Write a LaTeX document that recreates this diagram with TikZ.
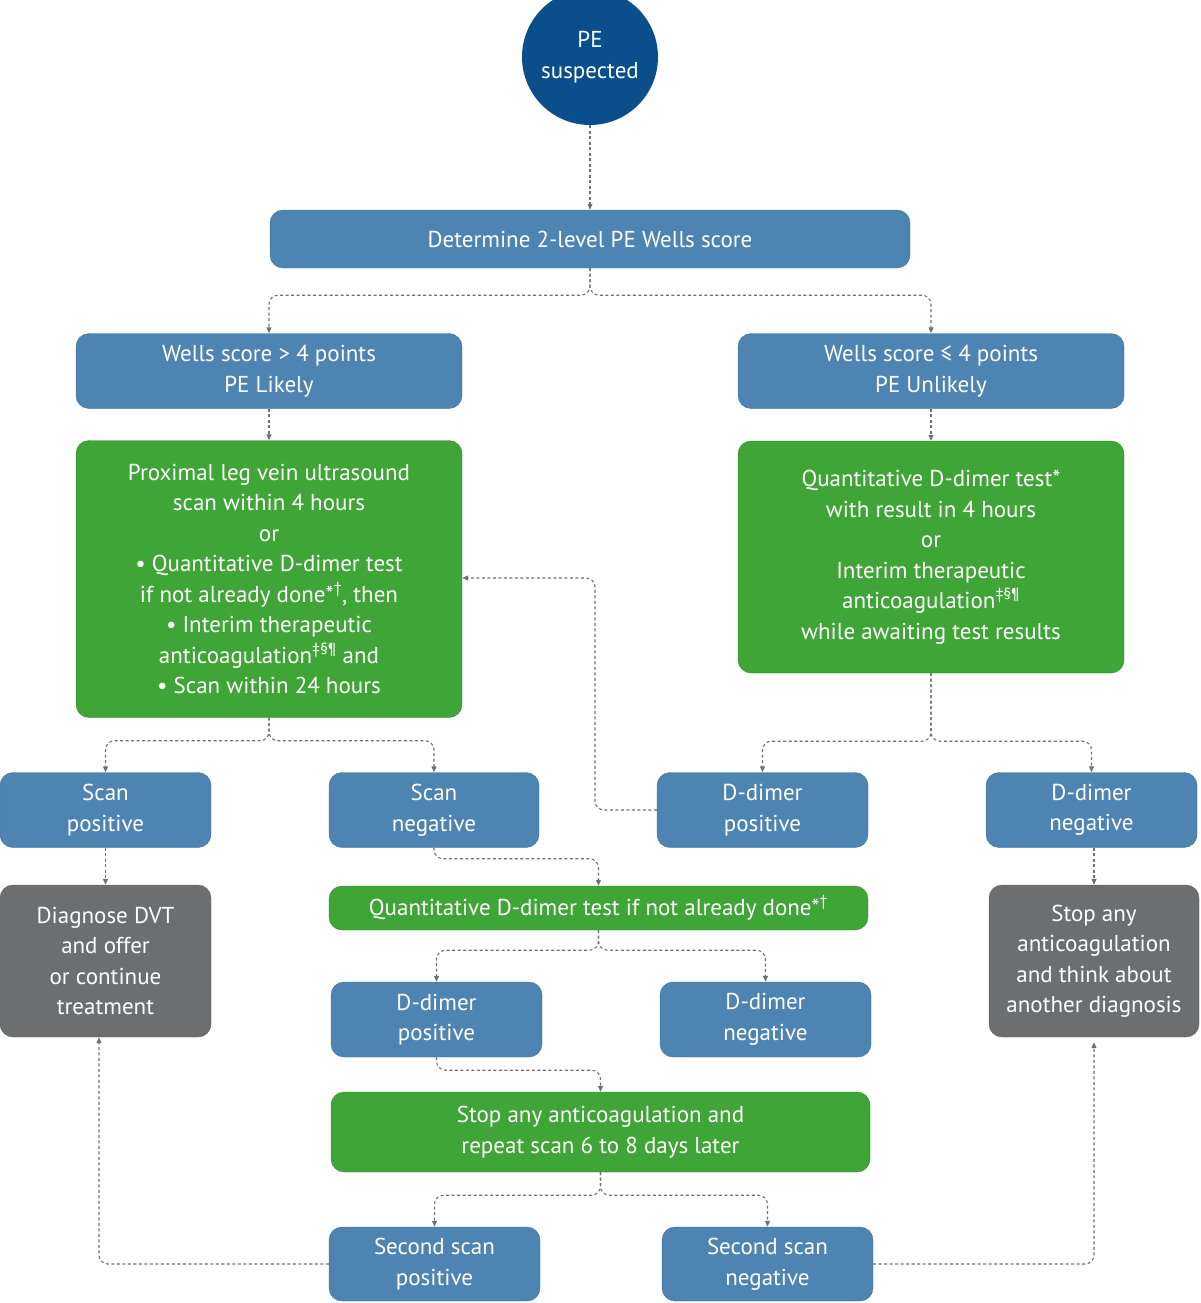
\documentclass[tikz,border=0pt]{standalone}
\usepackage{fontspec}
\setmainfont{PT Sans}
\usetikzlibrary{arrows.meta}
\definecolor{bl}{HTML}{4D84B1}
\definecolor{blb}{HTML}{3B6F9C}
\definecolor{dbl}{HTML}{0A4F8C}
\definecolor{gr}{HTML}{3EA536}
\definecolor{gy}{HTML}{6D6E70}
\definecolor{ln}{HTML}{707070}
\begin{document}
\begin{tikzpicture}[x=1pt,y=-1pt,
 box/.style={draw=#1!85!black,fill=#1,rounded corners=13pt,text=white,align=center,font=\fontsize{23}{30.5}\selectfont,inner sep=0pt},
 conn/.style={draw=ln,line width=1.1pt,dash pattern=on 3pt off 2.5pt,rounded corners=9pt,-{Triangle[length=6pt,width=5pt]}}]
\useasboundingbox (0,0) rectangle (1200,1303);
\newcommand\bx[6]{\node[box=#6,minimum width=#3-#2,minimum height=#5-#4] (#1) at ({(#2+#3)/2},{(#4+#5)/2}) {\strut};}
\node[circle,fill=dbl,minimum size=136pt,text=white,align=center,font=\fontsize{23}{30.5}\selectfont] (pe) at (590,57) {PE\\suspected};
\node[box=bl,minimum width=640pt,minimum height=58pt] (wells) at (590,239) {Determine 2-level PE Wells score};
\node[box=bl,minimum width=386pt,minimum height=75pt] (lik) at (269,371) {Wells score > 4 points\\PE Likely};
\node[box=bl,minimum width=386pt,minimum height=75pt] (unl) at (931,371) {Wells score ≤ 4 points\\PE Unlikely};
\node[box=gr,minimum width=386pt,minimum height=277pt] (gl) at (269,579) {Proximal leg vein ultrasound\\scan within 4 hours\\or\\• Quantitative D-dimer test\\if not already done*\textsuperscript{†}, then\\• Interim therapeutic\\anticoagulation\textsuperscript{‡§¶} and\\• Scan within 24 hours};
\node[box=gr,minimum width=386pt,minimum height=232pt] (gr) at (931,557) {Quantitative D-dimer test*\\with result in 4 hours\\or\\Interim therapeutic\\anticoagulation\textsuperscript{‡§¶}\\while awaiting test results};
\node[box=bl,minimum width=211pt,minimum height=75pt] (sp) at (105.5,810) {Scan\\positive};
\node[box=bl,minimum width=210pt,minimum height=75pt] (sn) at (434,810) {Scan\\negative};
\node[box=bl,minimum width=211pt,minimum height=75pt] (dp) at (762.5,810) {D-dimer\\positive};
\node[box=bl,minimum width=211pt,minimum height=75pt] (dn) at (1091.5,810) {D-dimer\\negative};
\node[box=gy,minimum width=211pt,minimum height=152pt] (gyl) at (105.5,961) {Diagnose DVT\\and offer\\or continue\\treatment};
\node[box=gy,minimum width=210pt,minimum height=152pt] (gyr) at (1094,961) {Stop any\\anticoagulation\\and think about\\another diagnosis};
\node[box=gr,minimum width=539pt,minimum height=44pt] (q) at (598.5,908) {Quantitative D-dimer test if not already done*\textsuperscript{†}};
\node[box=bl,minimum width=211pt,minimum height=75pt] (dp2) at (436.5,1019.5) {D-dimer\\positive};
\node[box=bl,minimum width=211pt,minimum height=75pt] (dn2) at (765.5,1019.5) {D-dimer\\negative};
\node[box=gr,minimum width=539pt,minimum height=80pt] (st) at (600.5,1132) {Stop any anticoagulation and\\repeat scan 6 to 8 days later};
\node[box=bl,minimum width=211pt,minimum height=74pt] (ssp) at (434.5,1264) {Second scan\\positive};
\node[box=bl,minimum width=211pt,minimum height=74pt] (ssn) at (767.5,1264) {Second scan\\negative};
\draw[conn] (pe) -- (wells);
\draw[conn] (wells.south) -- ++(0,27) -| (lik.north);
\draw[conn] (wells.south) -- ++(0,27) -| (unl.north);
\draw[conn] (lik) -- (gl);
\draw[conn] (unl) -- (gr);
\draw[conn] (gl.south) -- ++(0,23) -| (sp.north);
\draw[conn] (gl.south) -- ++(0,23) -| (sn.north);
\draw[conn] (gr.south) -- ++(0,68) -| (dp.north);
\draw[conn] (gr.south) -- ++(0,68) -| (dn.north);
\draw[conn] (dp.west) -| (595,578) -- (gl.east |- 0,578);
\draw[conn] (sp) -- (gyl);
\draw[conn] (dn.south -| gyr.north) -- (gyr.north);
\draw[conn] (sn.south) -- ++(0,11) -| (q.north);
\draw[conn] (q.south) -- ++(0,20) -| (dp2.north);
\draw[conn] (q.south) -- ++(0,20) -| (dn2.north);
\draw[conn] (dp2.south) -- ++(0,13) -| (st.north);
\draw[conn] (st.south) -- ++(0,23) -| (ssp.north);
\draw[conn] (st.south) -- ++(0,23) -| (ssn.north);
\draw[conn] (ssp.west) -| (gyl.south -| 99,0);
\draw[conn] (ssn.east) -| ([yshift=-5pt]gyr.south);
\end{tikzpicture}
\end{document}
